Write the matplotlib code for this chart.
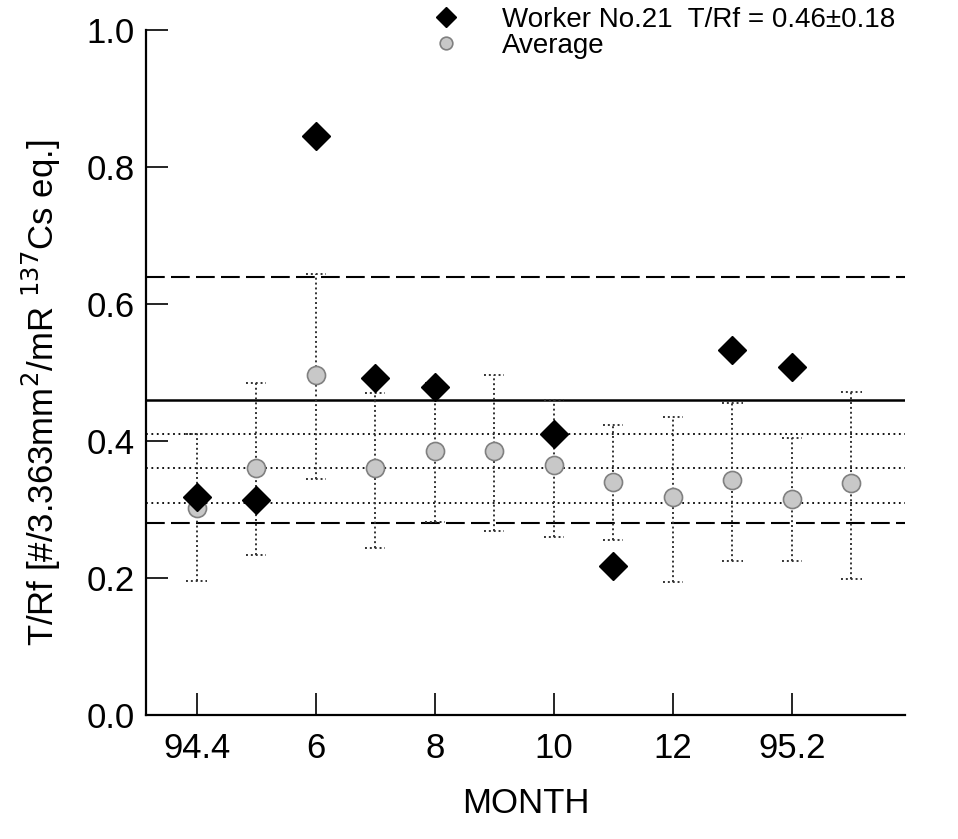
import numpy as np
import matplotlib.pyplot as plt

plt.rcParams['font.family'] = ['Liberation Sans', 'DejaVu Sans']

# months counted from 94.1 (13 = 95.1, 14 = 95.2, ...)
months = [4, 5, 6, 7, 8, 9, 10, 11, 12, 13, 14, 15]
avg = [0.302, 0.36, 0.496, 0.36, 0.385, 0.385, 0.365, 0.34, 0.318, 0.343, 0.315, 0.339]
avg_low = [0.196, 0.234, 0.344, 0.244, 0.282, 0.269, 0.26, 0.255, 0.194, 0.225, 0.225, 0.199]
avg_high = [0.41, 0.485, 0.644, 0.47, 0.485, 0.496, 0.46, 0.423, 0.435, 0.455, 0.404, 0.472]

worker_months = [4, 5, 6, 7, 8, 10, 11, 13, 14]
worker = [0.318, 0.314, 0.845, 0.492, 0.479, 0.41, 0.218, 0.533, 0.508]

worker_mean, worker_sd = 0.46, 0.18
avg_mean, avg_sd = 0.36, 0.05

tick_pos = [4, 6, 8, 10, 12, 14]
tick_labels = ['94.4', '6', '8', '10', '12', '95.2']

fig = plt.figure(figsize=(9.58, 8.39), dpi=100)
ax = fig.add_axes([0.1524, 0.1478, 0.7923, 0.8162])

# reference lines
ax.axhline(worker_mean, color='black', lw=1.8)
ax.axhline(worker_mean + worker_sd, color='black', lw=1.5, ls=(0, (9, 3)))
ax.axhline(worker_mean - worker_sd, color='black', lw=1.5, ls=(0, (9, 3)))
for v in [avg_mean - avg_sd, avg_mean, avg_mean + avg_sd]:
    ax.axhline(v, color='black', lw=1.3, ls=(0, (1, 2)))

# error bars of the average, dotted
m = np.array(months)
ax.vlines(m, avg_low, avg_high, colors='#333333', lw=1.4, linestyles=(0, (1, 1.5)))
cap = 0.17
ax.hlines(avg_low, m - cap, m + cap, colors='#333333', lw=1.4, linestyles=(0, (1, 1.5)))
ax.hlines(avg_high, m - cap, m + cap, colors='#333333', lw=1.4, linestyles=(0, (1, 1.5)))

ax.plot(months, avg, 'o', ms=13, mfc='#c8c8c8', mec='#808080', mew=1.2,
        ls='none', label='Average', zorder=4)
ax.plot(worker_months, worker, 'D', ms=14, color='black', ls='none',
        label='Worker No.21  T/Rf = 0.46\u00b10.18', zorder=5)

ax.set_xlim(3.15, 15.9)
ax.set_ylim(0, 1.0)
ax.set_xticks(tick_pos)
ax.set_xticklabels(tick_labels)
ax.set_yticks([0, 0.2, 0.4, 0.6, 0.8, 1.0])
ax.set_yticklabels(['0.0', '0.2', '0.4', '0.6', '0.8', '1.0'])
ax.tick_params(direction='in', length=16, width=1.2, labelsize=25)
ax.tick_params(axis='x', pad=12)
ax.tick_params(axis='y', pad=8)
ax.spines['top'].set_visible(False)
ax.spines['right'].set_visible(False)
ax.spines['left'].set_linewidth(1.6)
ax.spines['bottom'].set_linewidth(1.6)

ax.set_xlabel('MONTH', fontsize=25, labelpad=16)
ax.set_ylabel('T/Rf [#/3.363mm$^2$/mR $^{137}$Cs eq.]', fontsize=25)
ax.yaxis.set_label_coords(-0.11, 0.47)

h, l = ax.get_legend_handles_labels()
fig.legend(h[::-1], l[::-1], loc='upper left', bbox_to_anchor=(0.425, 1.022),
           frameon=False, fontsize=20, handlelength=1.0, handletextpad=1.5,
           labelspacing=0.0, markerscale=0.7)

fig.savefig('out.png', dpi=100)
